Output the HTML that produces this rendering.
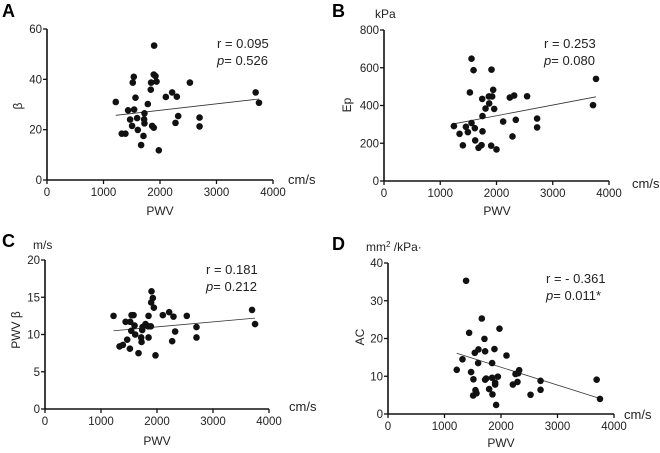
<!DOCTYPE html>
<html><head><meta charset="utf-8"><style>
body{margin:0;background:#fff}
svg{display:block;font-family:"Liberation Sans",Arial,sans-serif}
</style></head><body>
<svg id="fig" width="660" height="453" viewBox="0 0 660 453"></svg>
<script>
const xTicks=[0,1000,2000,3000,4000];
const aX=[1217,1323,1388,1435,1471,1506,1518,1536,1542,1566,1595,1607,1666,1707,1725,1719,1725,1784,1837,1843,1861,1890,1890,1896,1920,1938,1979,2103,2215,2274,2298,2322,2529,2700,2700,3693,3752];
const aY=[31,18.4,18.4,27.7,24,21.5,38.7,41,28,32.7,24.6,19.9,13.9,17.5,26.5,24.1,22.5,30.2,35.9,38.7,21.5,20.8,41.9,53.4,41.3,39.1,11.8,33,34.8,22.7,33.1,25.4,38.7,24.8,21.3,34.8,30.7];
const aTicks=[0,20,40,60];
const aFitX=[1217,3752];
const aFitY=[25.7,32.2];
const bX=[1243,1343,1402,1456,1491,1527,1556,1556,1592,1615,1621,1746,1751,1751,1680,1734,1805,1864,1923,1870,1911,1905,1941,1959,2000,2118,2237,2284,2314,2343,2544,2722,2722,3716,3769];
const bY=[291,250,189,287,259,469,307,648,587,280,215,435,344,263,176,190,384,448,448,411,590,187,483,382,167,315,442,236,453,324,449,331,284,402,541];
const bTicks=[0,200,400,600,800];
const bFitX=[1243,3769];
const bFitY=[303,446];
const cX=[1224,1331,1391,1439,1468,1516,1522,1540,1546,1581,1599,1611,1670,1718,1724,1736,1742,1795,1849,1849,1843,1890,1896,1902,1926,1944,1973,2104,2217,2271,2294,2324,2532,2705,2705,3697,3751];
const cY=[12.5,8.4,8.6,11.7,9.3,8.1,11.7,10.5,12.6,12.6,11.2,10,7.5,9.6,9.0,10.6,11,11.4,12.5,9.6,11.1,11.1,14.3,15.8,14.9,13.6,7.2,12.6,13,9.1,12.4,10.4,12.5,11,9.6,13.3,11.4];
const cTicks=[0,5,10,15,20];
const cFitX=[1224,3751];
const cFitY=[10.5,12.2];
const dX=[1217,1318,1382,1436,1471,1512,1507,1536,1548,1566,1601,1595,1660,1707,1719,1719,1737,1790,1843,1843,1849,1884,1896,1896,1914,1944,1973,2097,2210,2257,2292,2322,2304,2523,2700,2700,3693,3752];
const dY=[11.7,14.5,35.3,21.5,11.1,9.2,4.9,16.2,6.3,5.5,17.1,13.5,25.3,19.9,16.6,9.1,9.4,6.6,9.6,13.5,5.2,17.2,7.8,8.3,2.4,9.9,22.6,15.5,7.8,10.6,8.5,11.6,10.8,5.1,8.8,6.4,9.1,4.0];
const dTicks=[0,10,20,30,40];
const dFitX=[1217,3752];
const dFitY=[16.1,4.1];

const svg=document.getElementById('fig');
const NS='http://www.w3.org/2000/svg';
function mk(tag,attrs,parent,text){const e=document.createElementNS(NS,tag);for(const k in attrs)e.setAttribute(k,attrs[k]);if(text!==undefined)e.textContent=text;(parent||svg).appendChild(e);return e;}

function panel(p){
  const g=mk('g',{});
  
  
  const sx=v=>p.l+v/4000*(p.r-p.l);
  const sy=v=>p.b-v/p.ymax*(p.b-p.t);
  const ya=mk('line',{x1:p.l,y1:p.t,x2:p.l,y2:p.b,stroke:'#111','stroke-width':1.6},g);
  
  
  const xa=mk('line',{x1:p.l,y1:p.b,x2:p.r,y2:p.b,stroke:'#111','stroke-width':1.6},g);
  
  
  xTicks.forEach(v=>{
    mk('line',{x1:sx(v),y1:p.b,x2:sx(v),y2:p.b+4,stroke:'#111','stroke-width':1.3},g);
    const t=mk('text',{x:sx(v),y:p.b+16,'font-size':11.5,'text-anchor':'middle',fill:'#222'},g,String(v));
    
    
  });
  p.yt.forEach(v=>{
    mk('line',{x1:p.l-4,y1:sy(v),x2:p.l,y2:sy(v),stroke:'#111','stroke-width':1.3},g);
    const t=mk('text',{x:p.l-5,y:sy(v)+4,'font-size':11.5,'text-anchor':'end',fill:'#222'},g,String(v));
    
    
  });
  const rl=mk('line',{x1:sx(p.fx[0]),y1:sy(p.fy[0]),x2:sx(p.fx[1]),y2:sy(p.fy[1]),stroke:'#333','stroke-width':0.8},g);
  
  
  for(let i=0;i<p.xs.length;i++){
    const c=mk('circle',{cx:sx(p.xs[i]),cy:sy(p.ys[i]),r:3.3,fill:'#111'},g);
    
    
  }
}
panel({id:'a',l:47,r:273,t:29,b:180,ymax:60,yt:aTicks,xs:aX,ys:aY,fx:aFitX,fy:aFitY});
panel({id:'b',l:384,r:609,t:30,b:181,ymax:800,yt:bTicks,xs:bX,ys:bY,fx:bFitX,fy:bFitY});
panel({id:'c',l:45,r:269,t:260,b:409,ymax:20,yt:cTicks,xs:cX,ys:cY,fx:cFitX,fy:cFitY});
panel({id:'d',l:388,r:614,t:263,b:414,ymax:40,yt:dTicks,xs:dX,ys:dY,fx:dFitX,fy:dFitY});
</script>
<div style="position:absolute;left:0;top:0;width:660px;height:453px;pointer-events:none">
<svg width="660" height="453" style="font-family:'Liberation Sans',Arial,sans-serif">
<g fill="#222">
<text x="2" y="17" font-size="18" font-weight="bold" fill="#000">A</text>
<text x="22" y="106" font-size="12" transform="rotate(-90 22 106)" text-anchor="middle">β</text>
<text x="160" y="215" font-size="12" text-anchor="middle">PWV</text>
<text x="288" y="184" font-size="13">cm/s</text>
<text x="217" y="48" font-size="13">r = 0.095</text>
<text x="217" y="65" font-size="13"><tspan font-style="italic">p</tspan>= 0.526</text>

<text x="332" y="17" font-size="18" font-weight="bold" fill="#000">B</text>
<text x="375" y="18" font-size="12">kPa</text>
<text x="351" y="105" font-size="12" transform="rotate(-90 351 105)" text-anchor="middle">Ep</text>
<text x="497" y="215" font-size="12" text-anchor="middle">PWV</text>
<text x="632" y="188" font-size="13">cm/s</text>
<text x="544" y="48" font-size="13">r = 0.253</text>
<text x="544" y="65" font-size="13"><tspan font-style="italic">p</tspan>= 0.080</text>

<text x="2" y="247" font-size="18" font-weight="bold" fill="#000">C</text>
<text x="33" y="249" font-size="12">m/s</text>
<text x="20" y="330" font-size="12" transform="rotate(-90 20 330)" text-anchor="middle">PWV β</text>
<text x="157" y="445" font-size="12" text-anchor="middle">PWV</text>
<text x="289" y="411" font-size="13">cm/s</text>
<text x="206" y="274" font-size="13">r = 0.181</text>
<text x="206" y="291" font-size="13"><tspan font-style="italic">p</tspan>= 0.212</text>

<text x="332" y="250" font-size="18" font-weight="bold" fill="#000">D</text>
<text x="366" y="251" font-size="12">mm<tspan font-size="8" dy="-4">2</tspan><tspan dy="4"> /kPa·</tspan></text>
<text x="364" y="337" font-size="12" transform="rotate(-90 364 337)" text-anchor="middle">AC</text>
<text x="501" y="447" font-size="12" text-anchor="middle">PWV</text>
<text x="624" y="419" font-size="13">cm/s</text>
<text x="546" y="283" font-size="13">r = - 0.361</text>
<text x="546" y="300" font-size="13"><tspan font-style="italic">p</tspan>= 0.011*</text>
</g></svg></div>
</body></html>
